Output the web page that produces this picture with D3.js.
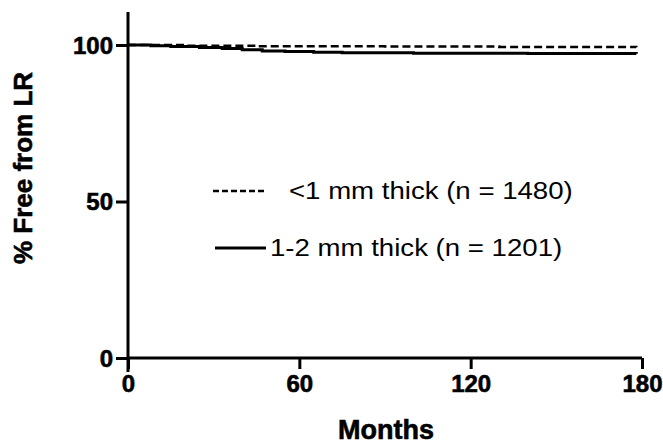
<!DOCTYPE html><html>
<head>
<meta charset="utf-8">
<script src="https://cdnjs.cloudflare.com/ajax/libs/d3/7.8.5/d3.min.js"></script>
<style>
  body { margin: 0; background: #fff; }
  text { font-family: "Liberation Sans", Arial, sans-serif; fill: #000; }
  .heavy { stroke: #000; stroke-width: 0.6; }
</style>
</head>
<body>
<svg id="chart" width="663" height="445"></svg>
<script>
// Kaplan-Meier steps (months, % free from LR)
var thinMonths = [0, 20, 45, 90, 130, 178];
var thinValues = [100, 99.8, 99.6, 99.5, 99.4, 99.3];
var thickMonths = [0, 8, 15, 25, 33, 40, 47, 55, 65, 75, 100, 140, 178];
var thickValues = [100, 99.8, 99.5, 99.2, 98.9, 98.5, 98.1, 97.9, 97.7, 97.5, 97.4, 97.3, 97.2];
var xTicks = [0, 60, 120, 180];
var yTicks = [0, 50, 100];
var legendLabels = ["<1 mm thick (n = 1480)", "1-2 mm thick (n = 1201)"];

var svg = d3.select("#chart");
var x = d3.scaleLinear().domain([0, 180]).range([128, 642]);
var y = d3.scaleLinear().domain([0, 100]).range([358, 45]);

// axes
var xAxis = svg.append("g").attr("transform", "translate(0," + y(0) + ")")
    .call(d3.axisBottom(x).tickValues(xTicks).tickSize(11).tickPadding(6).tickSizeOuter(0));
var yAxis = svg.append("g").attr("transform", "translate(" + x(0) + ",0)")
    .call(d3.axisLeft(y).tickValues(yTicks).tickSize(12).tickPadding(3).tickSizeOuter(0));
[xAxis, yAxis].forEach(function (g) {
    g.select(".domain").remove();
    g.selectAll("line").attr("stroke", "#000").attr("stroke-width", 3);
    g.selectAll("text").attr("font-size", 24).attr("font-weight", "bold").attr("fill", "#000").attr("class", "heavy");
});
yAxis.selectAll("text").attr("dy", "0.35em");
svg.append("line").attr("x1", x(0)).attr("x2", x(0)).attr("y1", 12).attr("y2", y(0) + 14)
    .attr("stroke", "#000").attr("stroke-width", 3);
svg.append("line").attr("x1", x(0)).attr("x2", x(180)).attr("y1", y(0)).attr("y2", y(0))
    .attr("stroke", "#000").attr("stroke-width", 3);

// curves
var line = d3.line().curve(d3.curveStepAfter).x(function (d) { return x(d[0]); }).y(function (d) { return y(d[1]); });
svg.append("path").datum(d3.zip(thinMonths, thinValues)).attr("d", line)
    .attr("fill", "none").attr("stroke", "#000").attr("stroke-width", 2.5).attr("stroke-dasharray", "8,4");
svg.append("path").datum(d3.zip(thickMonths, thickValues)).attr("d", line)
    .attr("fill", "none").attr("stroke", "#000").attr("stroke-width", 3);

// legend
svg.append("line").attr("x1", 213).attr("x2", 264).attr("y1", 191).attr("y2", 191)
    .attr("stroke", "#000").attr("stroke-width", 2.5).attr("stroke-dasharray", "6,3");
svg.append("line").attr("x1", 215).attr("x2", 266).attr("y1", 248).attr("y2", 248)
    .attr("stroke", "#000").attr("stroke-width", 3);
svg.append("text").attr("transform", "translate(289,199) scale(1.15,1)").attr("font-size", 24).text(legendLabels[0]);
svg.append("text").attr("transform", "translate(270,256) scale(1.15,1)").attr("font-size", 24).text(legendLabels[1]);

// axis titles
svg.append("text").attr("x", 386).attr("y", 439).attr("text-anchor", "middle").attr("class", "heavy")
    .attr("font-size", 27).attr("font-weight", "bold").text("Months");
svg.append("text").attr("transform", "translate(32,168) rotate(-90)").attr("text-anchor", "middle").attr("class", "heavy")
    .attr("font-size", 26).attr("font-weight", "bold").text("% Free from LR");
</script>
</body>
</html>
